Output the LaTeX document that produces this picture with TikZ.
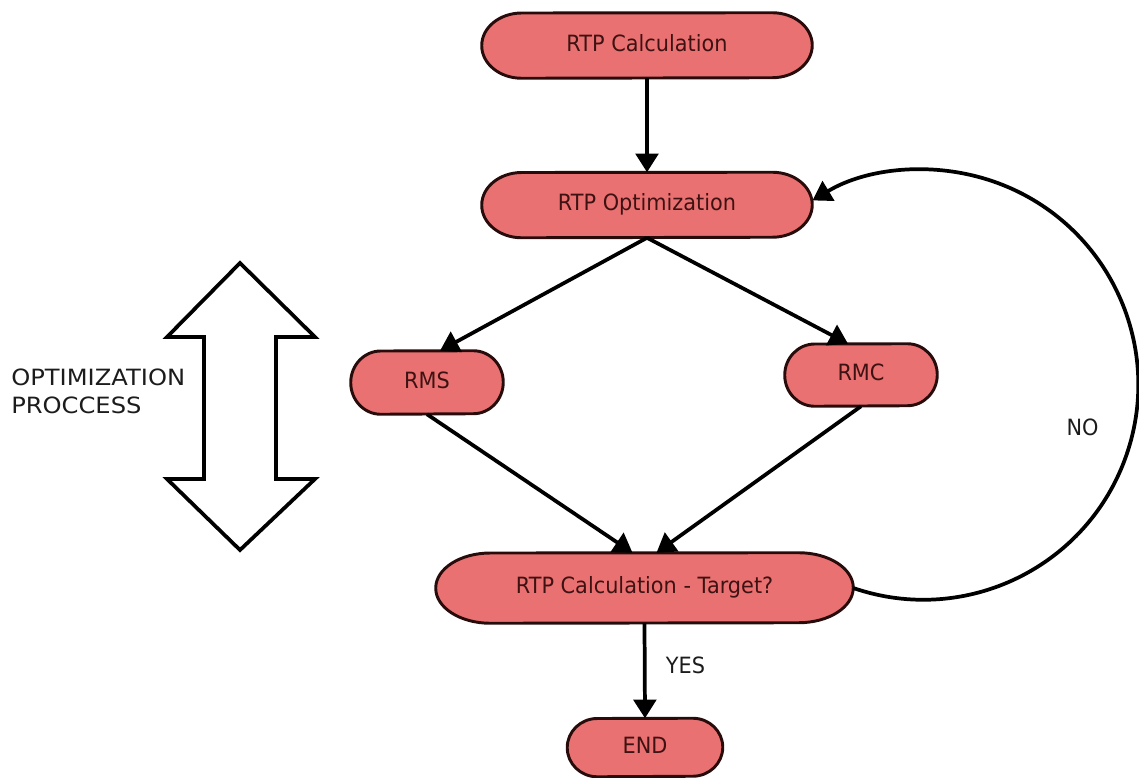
\documentclass[tikz,border=0pt]{standalone}
\usepackage{fontspec}
\setmainfont{DejaVu Sans}[FakeStretch=0.93]
\newfontfamily\widefont{DejaVu Sans}[FakeStretch=1.08]
\usetikzlibrary{arrows.meta,backgrounds}
\definecolor{boxfill}{RGB}{234,113,113}
\definecolor{boxline}{RGB}{40,12,12}
\definecolor{boxtext}{RGB}{62,18,18}
\definecolor{lbltext}{RGB}{28,28,28}
\newcommand\capsule[3]{%
  \draw[capsuleline] (#1.west) arc[start angle=180,end angle=90,x radius=#2,y radius=#3]
    -- ([xshift=-#2]#1.north east) arc[start angle=90,end angle=-90,x radius=#2,y radius=#3]
    -- ([xshift=#2]#1.south west) arc[start angle=270,end angle=180,x radius=#2,y radius=#3]
    -- cycle;}
\begin{document}
\begin{tikzpicture}[x=0.75pt,y=-0.75pt,
  box/.style={rectangle,inner sep=0pt,text=boxtext,
    font=\fontsize{16.8}{20}\selectfont,text height=1.0em,text depth=0.14em},
  capsuleline/.style={fill=boxfill,draw=boxline,line width=2.2pt},
  conn/.style={draw=black,line width=2.8pt,-{Triangle[length=14pt,width=17pt]}},
  lbl/.style={inner sep=0pt,text=lbltext,font=\fontsize{16.8}{21}\selectfont}]
\useasboundingbox (0,0) rectangle (1139,778);

\node[box,minimum width=247.5pt,minimum height=48.75pt] (calc) at (647,45.5) {RTP Calculation};
\node[box,minimum width=247.5pt,minimum height=48.75pt] (opt) at (647,205) {RTP Optimization};
\node[box,minimum width=114pt,minimum height=47.25pt] (rms) at (427,382.5) {RMS};
\node[box,minimum width=114pt,minimum height=46.5pt] (rmc) at (861,375) {RMC};
\node[box,minimum width=312.75pt,minimum height=52.5pt] (bot) at (644.5,588) {RTP Calculation - Target?};
\node[box,minimum width=116.25pt,minimum height=43.5pt] (end) at (645,747.5) {END};

\begin{scope}[on background layer]
  \capsule{calc}{30pt}{24.375pt}
  \capsule{opt}{30pt}{24.375pt}
  \capsule{rms}{22.5pt}{23.625pt}
  \capsule{rmc}{22.5pt}{23.25pt}
  \capsule{bot}{41pt}{26.25pt}
  \capsule{end}{22.5pt}{21.75pt}
\end{scope}

\node[lbl] (yes) at (685.5,665) {YES};
\node[lbl] (no) at (1082.5,427) {NO};
\node[lbl,anchor=west,align=left,font=\widefont\fontsize{16.8}{21}\selectfont] (optproc) at (11,391) {OPTIMIZATION\\PROCCESS};

\draw[conn] (calc.south) -- (opt.north);
\draw[conn] (opt.south) -- ([xshift=9.75pt]rms.north);
\draw[conn] (opt.south) -- ([xshift=-9.75pt]rmc.north);
\draw[conn] (rms.south) -- ([xshift=-9pt]bot.north);
\draw[conn] (rmc.south) -- ([xshift=9pt]bot.north);
\draw[conn] (bot.south) -- (end.north);
\draw[conn] (bot.east) arc[start angle=-109,end angle=121,radius=161.25pt];

\draw[line width=2.8pt,line join=miter,fill=white]
  (240,263) -- (315,337) -- (276,337) -- (276,479) -- (315,479) -- (240,550)
  -- (167,479) -- (204,479) -- (204,337) -- (167,337) -- cycle;
\end{tikzpicture}
\end{document}
